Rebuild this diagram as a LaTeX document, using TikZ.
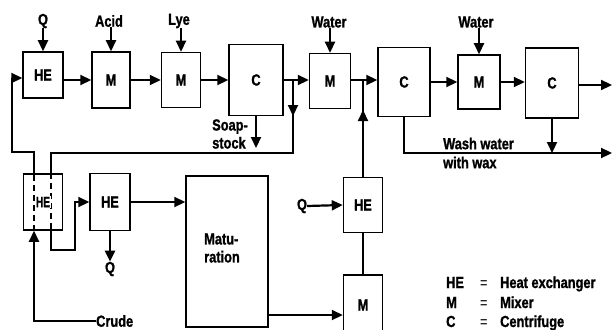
\documentclass[tikz,border=0pt]{standalone}
\usepackage{fontspec}
\setmainfont{Liberation Sans}[FakeStretch=0.8, BoldFeatures={FakeBold=1.2}]
\usetikzlibrary{arrows.meta,calc}
\begin{document}
\begin{tikzpicture}[x=1pt,y=-1pt,
  box/.style={draw, line width=1.5pt, inner sep=0pt, font=\bfseries\fontsize{16}{16}\selectfont},
  flow/.style={line width=2.2pt, -{Triangle[length=11pt,width=10pt]}},
  pipe/.style={line width=2.2pt},
  through/.style={line width=1.8pt, dash pattern=on 6pt off 4pt},
  lab/.style={font=\bfseries\fontsize{16}{18}\selectfont, inner sep=0pt},
  leg/.style={font=\bfseries\fontsize{16}{16}\selectfont, inner sep=0pt, anchor=base west}]
\useasboundingbox (0,0) rectangle (612,329);
\clip (0,0) rectangle (612,329);
% boxes
\node[box, minimum width=40pt, minimum height=46pt] (HE1) at (43,75) {HE};
\node[box, minimum width=38pt, minimum height=56pt] (M1) at (111,80) {M};
\node[box, minimum width=39pt, minimum height=55pt] (M2) at (181,80) {M};
\node[box, minimum width=54pt, minimum height=71pt] (C1) at (256,80) {C};
\node[box, minimum width=41pt, minimum height=55pt] (M3) at (330,81) {M};
\node[box, minimum width=52pt, minimum height=69pt] (C2) at (404,82) {C};
\node[box, minimum width=42pt, minimum height=54pt] (M5) at (479,82) {M};
\node[box, minimum width=53pt, minimum height=70pt] (C3) at (552,83) {C};
\node[box, minimum width=39pt, minimum height=56pt] (HE3) at (43,202) {};
\node[box, minimum width=40pt, minimum height=57pt] (HE2) at (110,202) {HE};
\node[box, minimum width=82pt, minimum height=151pt] (Mat) at (227,251.5) {};
\node[lab, align=left] (MatT) at (222,248) {Matu-\\ration};
\node[box, minimum width=39pt, minimum height=55pt] (HE4) at (363,205) {HE};
\node[box, minimum width=39pt, minimum height=60pt] (M4) at (363,305) {M};
% labels
\node[lab] (Q1) at (43,21) {Q};
\node[lab] (Acid) at (109,21) {Acid};
\node[lab] (Lye) at (179,21) {Lye};
\node[lab] (W1) at (329,22) {Water};
\node[lab] (W2) at (476,22) {Water};
\node[lab, align=left] (Soap) at (230,134) {Soap-\\stock};
\node[lab, align=left, anchor=west, font=\bfseries\fontsize{16}{19}\selectfont] (Wash) at (443,153) {Wash water\\with wax};
\node[lab] (Q2) at (110,269) {Q};
\node[lab] (Q3) at (302,206) {Q};
\node[lab, anchor=west] (Crude) at (96,321) {Crude};
% coordinates
\coordinate (J1) at (293,80);
\coordinate (J2) at (363,80);
\coordinate (R1) at (293,153);
\coordinate (R2) at (51,153);
\coordinate (cx) at (34,152);
\coordinate (y78) at (0,78);
\coordinate (y85) at (0,85);
\coordinate (y315) at (0,315);
% top row
\draw[flow] (Q1.south) -- (HE1.north);
\draw[flow] (M1.north |- Acid.south) -- (M1.north);
\draw[flow] (M2.north |- Lye.south) -- (M2.north);
\draw[flow] (M3.north |- W1.south) -- (M3.north);
\draw[flow] (M5.north |- W2.south) -- (M5.north);
\draw[flow] (HE1.east |- M1.west) -- (M1.west);
\draw[flow] (M1) -- (M2);
\draw[flow] (M2) -- (C1);
\draw[flow] (C1.east |- J1) -- (M3.west |- J1);
\draw[flow] (M3.east |- J2) -- (C2.west |- J2);
\draw[flow] (C2.east |- M5.west) -- (M5.west);
\draw[flow] (M5.east) -- (C3.west |- M5.east);
\draw[flow] (C3.east |- y85) -- (612,85);
% soapstock
\draw[flow] (C1.south) -- (256,148);
% recycle split
\draw[flow] (J1) -- (293,116);
\draw[pipe] (293,114) -- (R1) -- (R2) -- (R2 |- HE3.north);
\draw[through] (R2 |- HE3.north) -- (R2 |- HE3.south);
\draw[flow] (R2 |- HE3.south) -- (51,250) -- (75,250) -- (75,202) -- (HE2.west);
% crude
\draw[flow] (Crude.west) -- (34,321) -- (cx |- HE3.south);
\draw[through] (cx |- HE3.south) -- (cx |- HE3.north);
\draw[flow] (cx |- HE3.north) -- (cx) -- (12,152) -- (12,78) -- (HE1.west |- y78);
\node[font=\bfseries\fontsize{15}{15}\selectfont, inner sep=0.5pt, fill=white] at (HE3) {\scalebox{0.85}[1]{HE}};
% lower
\draw[flow] (HE2.south) -- (Q2.north);
\draw[flow] (HE2.east) -- (Mat.west |- HE2.east);
\draw[flow] (Mat.east |- y315) -- (M4.west |- y315);
\draw[pipe] (HE4.south) -- (M4.north);
\draw[flow] (Q3.east) -- (HE4.west);
\draw[flow] (HE4.north) -- (363,110);
\draw[pipe] (363,112) -- (J2);
% wash water
\draw[flow] (C2.south) -- (404,153) -- (612,153);
\draw[flow] (C3.south) -- (552,153);
% legend
\node[leg] (L1a) at (446,288) {HE};
\node[leg, font=\fontsize{16}{16}\selectfont] (L1b) at (480,288) {=};
\node[leg] (L1c) at (500,288) {Heat exchanger};
\node[leg] (L2a) at (446,308) {M};
\node[leg, font=\fontsize{16}{16}\selectfont] (L2b) at (480,308) {=};
\node[leg] (L2c) at (500,308) {Mixer};
\node[leg] (L3a) at (446,327) {C};
\node[leg, font=\fontsize{16}{16}\selectfont] (L3b) at (480,327) {=};
\node[leg] (L3c) at (500,327) {Centrifuge};
\end{tikzpicture}
\end{document}
